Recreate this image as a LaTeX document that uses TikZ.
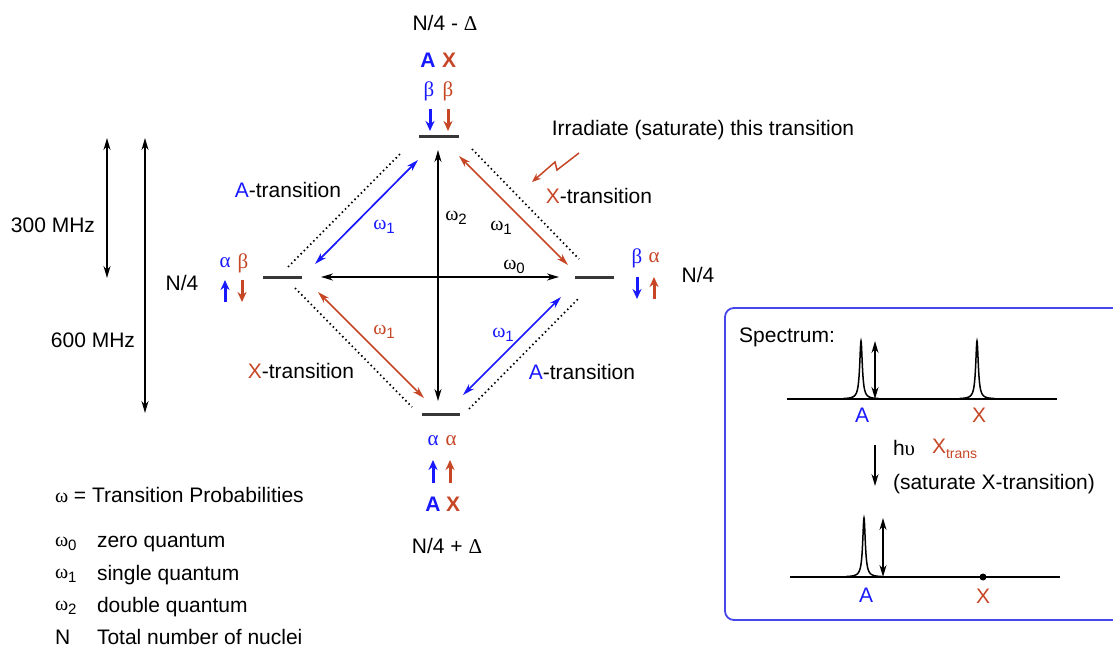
\documentclass[tikz,border=0pt]{standalone}
\usepackage{fontspec}
\setmainfont{Liberation Sans}
\newfontfamily\gk{Liberation Serif}
\usetikzlibrary{arrows.meta}
\definecolor{ablue}{RGB}{25,25,255}
\definecolor{xred}{RGB}{198,70,38}
\definecolor{lvl}{RGB}{55,55,55}
\definecolor{boxblue}{RGB}{70,70,235}
\newcommand\wsub[1]{{\gk ω}\raisebox{-0.35ex}{\fontsize{15}{15}\selectfont #1}}
\begin{document}
\begin{tikzpicture}[x=1pt,y=-1pt,
  font=\fontsize{21}{25}\selectfont,
  every node/.style={inner sep=0pt, outer sep=0pt},
  level/.style={draw=lvl, line width=3pt},
  dbl/.style={{Stealth[length=12pt,width=7pt]}-{Stealth[length=12pt,width=7pt]}, line width=1.7pt},
  sgl/.style={-{Stealth[length=12pt,width=7pt]}, line width=1.7pt},
  dots/.style={dash pattern=on 1.5pt off 3pt, line width=1.7pt},
  spin/.style={-{Stealth[length=10pt,width=9pt]}, line width=3pt},
  gr/.style={font=\fontsize{21}{25}\selectfont\gk},
  bl/.style={font=\fontsize{21}{25}\selectfont\bfseries},
  om/.style={font=\fontsize{20}{24}\selectfont}]
\useasboundingbox (0,0) rectangle (1113,647);

% ---------- energy levels ----------
\draw[level] (419,137) coordinate (topL) -- (459,137) coordinate (topR);
\draw[level] (263,277) coordinate (leftL) -- (302,277) coordinate (leftR);
\draw[level] (575,277) coordinate (rightL) -- (614,277) coordinate (rightR);
\draw[level] (422,414) coordinate (botL) -- (460,414) coordinate (botR);

% ---------- transition arrows ----------
\coordinate (w2a) at (438,150);  \coordinate (w2b) at (438,401);
\coordinate (w0a) at (321,277);  \coordinate (w0b) at (559,277);
\draw[dbl] (w2a) -- (w2b);
\draw[dbl] (w0a) -- (w0b);

\coordinate (tlA) at (315,264); \coordinate (tlB) at (418,160);
\coordinate (blA) at (318,292); \coordinate (blB) at (424,398);
\coordinate (trA) at (459,156); \coordinate (trB) at (568,265);
\coordinate (brA) at (463,395); \coordinate (brB) at (561,297);
\draw[dbl, draw=ablue, fill=ablue] (tlA) -- (tlB);
\draw[dbl, draw=xred, fill=xred] (blA) -- (blB);
\draw[dbl, draw=xred, fill=xred] (trA) -- (trB);
\draw[dbl, draw=ablue, fill=ablue] (brA) -- (brB);

% dotted guides
\coordinate (d1a) at (288,267); \coordinate (d1b) at (402,152);
\coordinate (d2a) at (295,288); \coordinate (d2b) at (412,407);
\coordinate (d3a) at (472,149); \coordinate (d3b) at (579,259);
\coordinate (d4a) at (469,409); \coordinate (d4b) at (578,299);
\draw[dots] (d1a) -- (d1b);
\draw[dots] (d2a) -- (d2b);
\draw[dots] (d3a) -- (d3b);
\draw[dots] (d4a) -- (d4b);

% omega labels
\node[om, text=ablue] (o1) at (384,227) {\wsub{1}};
\node[om, text=xred] (o2) at (384,332) {\wsub{1}};
\node[om] (o3) at (456,218) {\wsub{2}};
\node[om] (o4) at (501,228) {\wsub{1}};
\node[om] (o5) at (514,267) {\wsub{0}};
\node[om, text=ablue] (o6) at (503,335) {\wsub{1}};

% transition labels
\node (tA1) at (288,190) {\textcolor{ablue}{A}-transition};
\node (tX1) at (301,371) {\textcolor{xred}{X}-transition};
\node (tX2) at (599,196) {\textcolor{xred}{X}-transition};
\node (tA2) at (582,372) {\textcolor{ablue}{A}-transition};
\node (irr) at (703,130) {Irradiate (saturate) this transition};
\coordinate (sq0) at (579,153);
\coordinate (sq1) at (557,170);
\coordinate (sq2) at (555,162);
\coordinate (sq3) at (532,182);
\draw[xred, line width=1.5pt, -{Stealth[length=9pt,width=7pt]}] (sq0) -- (sq1) -- (sq2) -- (sq3);

% ---------- top state ----------
\node (ntop) at (445,23) {N/4 - {\gk Δ}};
\node[bl, text=ablue] (tA) at (428,60) {A};
\node[bl, text=xred] (tX) at (449,60) {X};
\node[gr, text=ablue] (tb1) at (429,91) {β};
\node[gr, text=xred] (tb2) at (448,91) {β};
\coordinate (ts1a) at (430,109); \coordinate (ts1b) at (430,131);
\coordinate (ts2a) at (448,109); \coordinate (ts2b) at (448,131);
\draw[spin, ablue] (ts1a) -- (ts1b);
\draw[spin, xred] (ts2a) -- (ts2b);

% ---------- left state ----------
\node (nleft) at (182,283) {N/4};
\node[gr, text=ablue] (la) at (225,263) {α};
\node[gr, text=xred] (lb) at (243,263) {β};
\coordinate (ls1a) at (225,302); \coordinate (ls1b) at (225,280);
\coordinate (ls2a) at (242,280); \coordinate (ls2b) at (242,302);
\draw[spin, ablue] (ls1a) -- (ls1b);
\draw[spin, xred] (ls2a) -- (ls2b);

% ---------- right state ----------
\node (nright) at (698,275) {N/4};
\node[gr, text=ablue] (rb) at (637,258) {β};
\node[gr, text=xred] (ra) at (654,258) {α};
\coordinate (rs1a) at (637,277); \coordinate (rs1b) at (637,299);
\coordinate (rs2a) at (654,299); \coordinate (rs2b) at (654,277);
\draw[spin, ablue] (rs1a) -- (rs1b);
\draw[spin, xred] (rs2a) -- (rs2b);

% ---------- bottom state ----------
\node[gr, text=ablue] (ba1) at (433,441) {α};
\node[gr, text=xred] (ba2) at (451,441) {α};
\coordinate (bs1a) at (433,483); \coordinate (bs1b) at (433,460);
\coordinate (bs2a) at (450,483); \coordinate (bs2b) at (450,460);
\draw[spin, ablue] (bs1a) -- (bs1b);
\draw[spin, xred] (bs2a) -- (bs2b);
\node[bl, text=ablue] (bA) at (433,504) {A};
\node[bl, text=xred] (bX) at (453,504) {X};
\node (nbot) at (447,546) {N/4 + {\gk Δ}};

% ---------- field arrows ----------
\coordinate (f3a) at (107,138); \coordinate (f3b) at (107,278);
\coordinate (f6a) at (145,138); \coordinate (f6b) at (145,413);
\draw[dbl] (f3a) -- (f3b);
\draw[dbl] (f6a) -- (f6b);
\node (m300) at (53,225) {300 MHz};
\node (m600) at (93,340) {600 MHz};

% ---------- legend ----------
\node[anchor=west] (lg0) at (55,495) {{\gk\fontsize{20}{24}\selectfont ω} = Transition Probabilities};
\node[anchor=west, om] (lg1) at (55,544) {\wsub{0}};
\node[anchor=west] (lg1t) at (97,543) {zero quantum};
\node[anchor=west, om] (lg2) at (55,576) {\wsub{1}};
\node[anchor=west] (lg2t) at (97,575) {single quantum};
\node[anchor=west, om] (lg3) at (55,608) {\wsub{2}};
\node[anchor=west] (lg3t) at (97,607) {double quantum};
\node[anchor=west] (lg4) at (55,637) {N};
\node[anchor=west] (lg4t) at (97,637) {Total number of nuclei};

% ---------- spectrum box ----------
\begin{scope}
\clip (0,0) rectangle (1113,647);
\draw[boxblue, line width=1.8pt, rounded corners=9pt] (725,308) rectangle (1135,620);
\end{scope}
\node (spec) at (787,337) {Spectrum:};
% upper spectrum
\draw[line width=1.5pt] (787,399) -- (1057,399);
\draw[line width=1.5pt] plot[domain=-18:18, samples=181] ({861+\x},{399-58*2.5/(\x*\x+2.5)});
\draw[line width=1.5pt] plot[domain=-18:18, samples=181] ({977+\x},{399-58*2.5/(\x*\x+2.5)});
\coordinate (u1) at (875,341); \coordinate (u2) at (875,399);
\draw[dbl, line width=1.5pt] (u1) -- (u2);
\node[text=ablue] (sA1) at (862,415) {A};
\node[text=xred] (sX1) at (979,415) {X};
% transition
\coordinate (h1) at (875,445); \coordinate (h2) at (875,486);
\draw[sgl, line width=1.4pt] (h1) -- (h2);
\node[anchor=west] (hv) at (893,448) {h{\gk υ}};
\node[anchor=west, text=xred] (xt) at (932,449) {X\raisebox{-0.4ex}{\fontsize{14}{14}\selectfont trans}};
\node[anchor=west] (sat) at (893,484) {(saturate X-transition)};
% lower spectrum
\draw[line width=1.5pt] (790,577) -- (1060,577);
\draw[line width=1.5pt] plot[domain=-18:18, samples=181] ({864+\x},{577-59*2.5/(\x*\x+2.5)});
\coordinate (l1) at (883,518); \coordinate (l2) at (883,577);
\draw[dbl, line width=1.5pt] (l1) -- (l2);
\fill (983,577) circle (3.5pt);
\node[text=ablue] (sA2) at (866,595) {A};
\node[text=xred] (sX2) at (983,596) {X};
\end{tikzpicture}
\end{document}
